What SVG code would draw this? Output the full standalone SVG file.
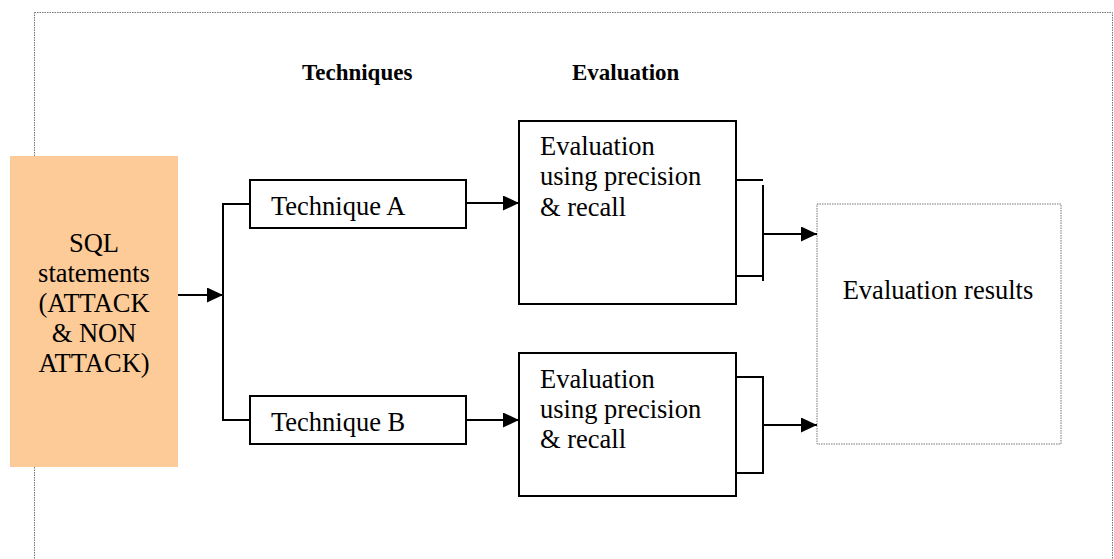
<svg xmlns="http://www.w3.org/2000/svg" width="1114" height="559" viewBox="0 0 1114 559">
<defs>
<style>
text{font-family:'Liberation Serif','Times New Roman',Times,'DejaVu Serif',serif;fill:#000}
.t{font-size:26.5px}
.h{font-size:23px;font-weight:bold}
.box{fill:#fff;stroke:#000;stroke-width:2}
.dot{fill:none;stroke:#777;stroke-width:1;stroke-dasharray:1.5 1}
.ln{fill:none;stroke:#000;stroke-width:2}
</style>
<marker id="ah" viewBox="0 0 16 15" refX="16" refY="7.5" markerWidth="16" markerHeight="15" markerUnits="userSpaceOnUse" orient="auto">
<path d="M0,0 L16,7.5 L0,15 Z" fill="#000"/>
</marker>
</defs>
<rect width="1114" height="559" fill="#fff"/>
<g id="frame"><rect class="dot" x="34.5" y="12.5" width="1078" height="600"/></g>
<g id="headings" font-family="Liberation Serif, serif">
<text class="h" x="302" y="80">Techniques</text>
<text class="h" x="572" y="80">Evaluation</text>
</g>
<g id="sql" font-family="Liberation Serif, serif">
<rect x="10" y="156" width="168" height="311" fill="#FDCB98"/>
<text class="t" text-anchor="middle" x="94" y="252">SQL</text>
<text class="t" text-anchor="middle" x="94" y="282">statements</text>
<text class="t" text-anchor="middle" x="94" y="312">(ATTACK</text>
<text class="t" text-anchor="middle" x="94" y="342">&amp; NON</text>
<text class="t" text-anchor="middle" x="94" y="372">ATTACK)</text>
</g>
<g id="techA">
<rect class="box" x="250" y="180" width="216" height="48"/>
<text class="t" x="271" y="215">Technique A</text>
</g>
<g id="techB">
<rect class="box" x="250" y="396" width="216" height="48"/>
<text class="t" x="271" y="431">Technique B</text>
</g>
<g id="evalA">
<rect class="box" x="519" y="121" width="217" height="183"/>
<text class="t" x="540" y="155">Evaluation</text>
<text class="t" x="540" y="185">using precision</text>
<text class="t" x="540" y="216">&amp; recall</text>
</g>
<g id="evalB">
<rect class="box" x="519" y="353" width="217" height="143"/>
<text class="t" x="540" y="388">Evaluation</text>
<text class="t" x="540" y="418">using precision</text>
<text class="t" x="540" y="448">&amp; recall</text>
</g>
<g id="results">
<rect class="dot" x="817" y="204" width="244" height="240"/>
<text class="t" text-anchor="middle" x="938" y="299">Evaluation results</text>
</g>
<g id="connectors">
<path class="ln" d="M178,295 H223" marker-end="url(#ah)"/>
<path class="ln" d="M250,204 H223 V420 H250"/>
<path class="ln" d="M466,203 H519" marker-end="url(#ah)"/>
<path class="ln" d="M466,420 H519" marker-end="url(#ah)"/>
<path class="ln" d="M736,180 H763"/>
<path class="ln" d="M736,276 H763"/>
<path class="ln" d="M763,185 V281"/>
<path class="ln" d="M763,234 H817" marker-end="url(#ah)"/>
<path class="ln" d="M736,377 H763 V473 H736"/>
<path class="ln" d="M763,425 H817" marker-end="url(#ah)"/>
</g>
</svg>
